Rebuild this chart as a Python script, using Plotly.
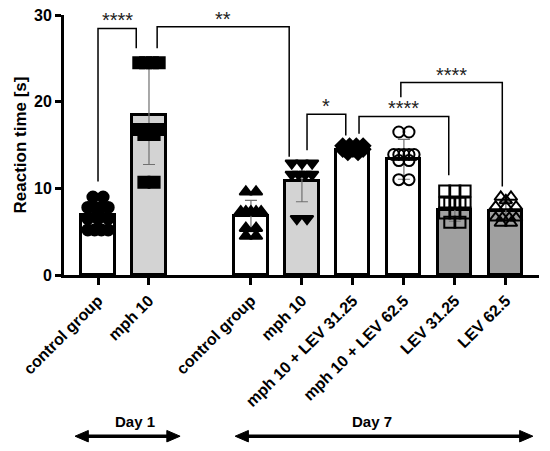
import plotly.graph_objects as go

# groups, in plotting order
labels = ["control group", "mph 10", "control group", "mph 10",
          "mph 10 + LEV 31.25", "mph 10 + LEV 62.5", "LEV 31.25", "LEV 62.5"]
days = [1, 1, 7, 7, 7, 7, 7, 7]

means = [6.9, 18.45, 6.8, 10.8, 14.4, 13.35, 7.5, 7.4]
sds = [1.5, 5.7, 1.8, 2.35, 0.3, 2.3, 1.3, 1.1]

points = [
    [9.0, 9.0, 7.8, 7.8, 7.8, 7.8, 6.5, 6.5, 6.5, 5.2, 5.2, 5.2, 5.2],
    [24.5, 24.5, 24.5, 24.5, 16.8, 16.8, 16.8, 16.2, 16.2, 10.7, 10.7],
    [9.6, 9.6, 7.3, 7.3, 7.3, 7.3, 7.3, 5.4, 5.4, 4.5, 4.5],
    [12.9, 12.9, 12.9, 11.6, 11.6, 11.6, 11.6, 6.5, 6.5],
    [14.9, 14.9, 14.9, 14.9, 14.5, 14.5, 14.5, 14.5, 14.5, 14.1, 14.1],
    [16.5, 16.5, 13.9, 13.9, 13.9, 13.9, 13.9, 13.2, 13.2, 11.0, 11.0],
    [9.7, 9.7, 9.7, 8.3, 8.3, 8.3, 8.3, 8.3, 7.15, 7.15, 7.15, 6.1, 6.1],
    [9.0, 9.0, 8.6, 7.9, 7.9, 7.9, 6.6, 6.6, 6.6, 6.6, 6.0, 6.0],
]

# significance: (group a, group b, bracket top, leg a end, leg b end, label)
comparisons = [
    (0, 1, 28.45, 10.8, 26.15, "****"),
    (1, 3, 28.65, 26.15, 13.65, "**"),
    (3, 4, 18.55, 14.4, 16.1, "*"),
    (4, 6, 18.3, 16.3, 11.5, "****"),
    (5, 7, 22.2, 20.5, 10.2, "****"),
]
leg_shift = [(0.0, -0.25), (0.16, -0.25), (0.1, -0.14), (0.12, -0.12), (-0.06, -0.07)]

fills = ["white", "#d3d3d3", "white", "#d3d3d3", "white", "white", "#a0a0a0", "#a0a0a0"]
symbols = ["circle", "square", "triangle-up", "triangle-down", "diamond",
           "circle-open", "square-open", "triangle-up-open"]

# leave one empty slot between day 1 and day 7
xpos = [i + (1 if d == 7 else 0) for i, d in enumerate(days)]

fig = go.Figure()
fig.add_trace(go.Bar(
    x=xpos, y=means, width=0.65,
    marker=dict(color=fills, line=dict(color="black", width=3)),
    error_y=dict(type="data", array=sds, color="#707070", thickness=1.2, width=6),
    showlegend=False,
))


def spread(vals):
    # place equal values side by side across the bar
    out = []
    for v in vals:
        n = vals.count(v)
        k = sum(1 for u in out if u[1] == v)
        step = min(0.2, 0.4 / (n - 1)) if n > 1 else 0
        out.append(((k - (n - 1) / 2) * step, v))
    return out


for i, vals in enumerate(points):
    pts = spread(vals)
    fig.add_trace(go.Scatter(
        x=[xpos[i] + dx for dx, _ in pts], y=[v for _, v in pts],
        mode="markers",
        marker=dict(symbol=symbols[i], size=11, color="black",
                    line=dict(color="black", width=2)),
        showlegend=False,
    ))

for (a, b, top, ya, yb, txt), (sa, sb) in zip(comparisons, leg_shift):
    xa = xpos[a] + sa
    xb = xpos[b] + sb
    fig.add_shape(type="path", path=f"M {xa} {ya} L {xa} {top} L {xb} {top} L {xb} {yb}",
                  line=dict(color="black", width=1.5))
    fig.add_annotation(x=(xa + xb) / 2, y=top, text=txt, showarrow=False,
                       yanchor="bottom", yshift=-5,
                       font=dict(size=20, color="#222", family="Liberation Sans, Arial"))

# day arrows under the axis
day_spans = [("Day 1", -0.45, 1.61, 0.72), ("Day 7", 2.69, 8.53, 5.38)]
ay = -0.62
for name, x0, x1, xt in day_spans:
    fig.add_shape(type="line", xref="x", yref="paper", x0=x0 + 0.15, x1=x1 - 0.15,
                  y0=ay, y1=ay, line=dict(color="black", width=3.5))
    fig.add_shape(type="path", xref="x", yref="paper",
                  path=f"M {x0} {ay} L {x0 + 0.26} {ay + 0.022} L {x0 + 0.26} {ay - 0.022} Z",
                  fillcolor="black", line=dict(color="black", width=1))
    fig.add_shape(type="path", xref="x", yref="paper",
                  path=f"M {x1} {ay} L {x1 - 0.26} {ay + 0.022} L {x1 - 0.26} {ay - 0.022} Z",
                  fillcolor="black", line=dict(color="black", width=1))
    fig.add_annotation(x=xt, y=ay, xref="x", yref="paper", text=name, showarrow=False,
                       yanchor="bottom", yshift=4,
                       font=dict(size=15, color="black", family="Liberation Sans, Arial",
                                 weight="bold"))

# the page body adds an 8px offset, so the figure is 8px smaller
fig.update_layout(
    width=542, height=443,
    margin=dict(l=56, r=11, t=7, b=176),
    plot_bgcolor="white", paper_bgcolor="white",
    font=dict(family="Liberation Sans, Arial", color="black"),
    bargap=0,
)
fig.update_xaxes(
    range=[-0.667, 8.65], tickvals=xpos, ticktext=labels, tickangle=-45,
    showline=True, linecolor="black", linewidth=3,
    ticks="outside", ticklen=7, tickwidth=3, tickcolor="black",
    tickfont=dict(size=16, weight="bold"), showgrid=False, zeroline=False,
    automargin=False,
)
fig.update_yaxes(
    range=[0, 30], tickvals=[0, 10, 20, 30],
    showline=True, linecolor="black", linewidth=3,
    ticks="outside", ticklen=6, tickwidth=3, tickcolor="black",
    tickfont=dict(size=16, weight="bold"), showgrid=False, zeroline=False,
    ticklabeloverflow="allow",
    title=dict(text="Reaction time [s]", font=dict(size=17, weight="bold"), standoff=4),
    automargin=False,
)

fig.write_html("out.html")
